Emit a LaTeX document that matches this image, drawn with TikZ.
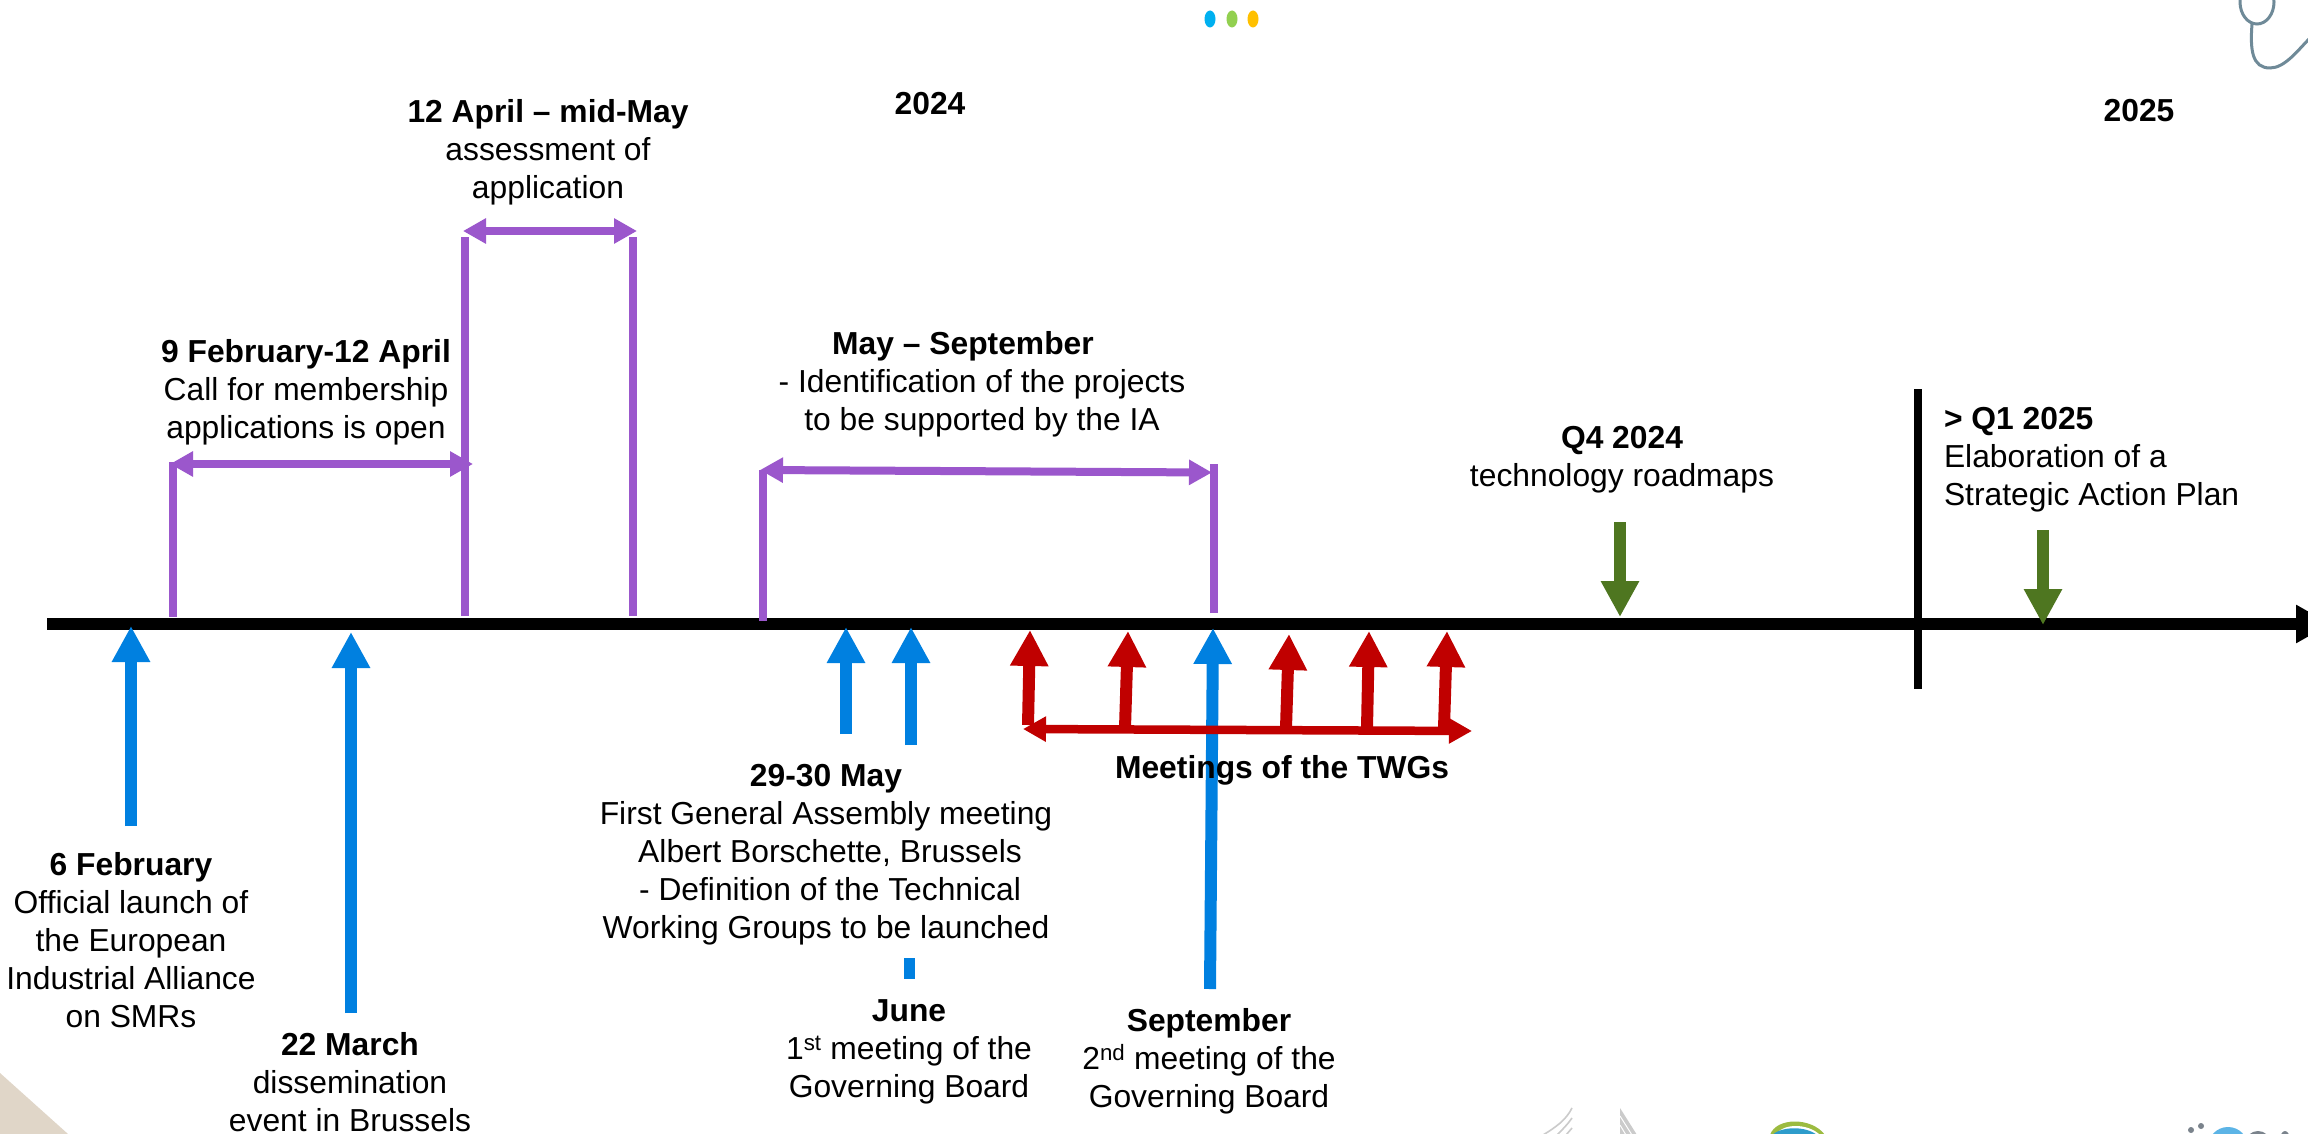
\documentclass[tikz,border=0pt]{standalone}
\usepackage{fontspec}
\setmainfont{Liberation Sans}
\usetikzlibrary{arrows.meta,shapes.geometric}
\definecolor{tblue}{HTML}{0080E0}
\definecolor{tred}{HTML}{C00000}
\definecolor{tgreen}{HTML}{4E7620}
\definecolor{tpurple}{HTML}{9B57CC}
\definecolor{tsteth}{HTML}{6F8A98}
\definecolor{dotb}{HTML}{00B0F0}
\definecolor{dotg}{HTML}{92D050}
\definecolor{doty}{HTML}{FFC000}
\definecolor{beige}{HTML}{E0D6C8}
\definecolor{lgray}{HTML}{CBCBCB}
\definecolor{logogreen}{HTML}{9CBB40}
\definecolor{logoblue}{HTML}{2E9CCB}
\definecolor{logosky}{HTML}{5CB4E6}
\definecolor{logogray}{HTML}{7A838C}
\tikzset{
  x=1pt,y=-1pt,
  lbl/.style={inner sep=0pt,outer sep=0pt,align=center,font=\fontsize{31.8}{38}\selectfont},
  lblleft/.style={lbl,align=left},
  axisline/.style={draw=black,line width=12pt,-{Triangle[length=35pt,width=36pt]}},
  yearbar/.style={draw=black,line width=8pt},
  bluearrow/.style={draw=tblue,line width=12pt,-{Triangle[length=36pt,width=36pt]}},
  blueline/.style={draw=tblue,line width=11pt},
  redarrow/.style={draw=tred,line width=12pt,-{Triangle[length=36pt,width=36pt]}},
  redspan/.style={draw=tred,line width=8.5pt,{Triangle[length=23pt,width=24pt]}-{Triangle[length=23pt,width=24pt]}},
  greenarrow/.style={draw=tgreen,line width=12pt,-{Triangle[length=36pt,width=36pt]}},
  purplebar/.style={draw=tpurple,line width=8pt},
  purplespan/.style={draw=tpurple,line width=8pt,{Triangle[length=23pt,width=24pt]}-{Triangle[length=23pt,width=24pt]}},
  dot/.style={ellipse,minimum width=11pt,minimum height=17pt,inner sep=0pt},
  fragline/.style={draw=lgray,line width=1.6pt},
}
\begin{document}
\begin{tikzpicture}
\clip (0,0) rectangle (2308,1134);
\fill[white] (0,0) rectangle (2308,1134);
% decorations
\node[dot,fill=dotb] (d1) at (1210,19) {};
\node[dot,fill=dotg] (d2) at (1232,19) {};
\node[dot,fill=doty] (d3) at (1253,19) {};
\draw[tsteth,line width=3pt] (2257,2) ellipse (17 and 22);
\draw[tsteth,line width=3pt] (2252,24) .. controls (2250,50) and (2252,68) .. (2270,68) .. controls (2285,68) and (2298,50) .. (2310,38);
\fill[beige] (0,1073) -- (68,1134) -- (0,1134) -- cycle;
\draw[fragline] (1572,1108) .. controls (1566,1120) and (1556,1127) .. (1543,1135);
\draw[fragline] (1572,1118) .. controls (1568,1124) and (1562,1130) .. (1557,1135);
\draw[fragline] (1572,1128) -- (1566,1135);
\fill[lgray] (1620,1108) -- (1637,1135) -- (1620,1135) -- cycle;
\draw[white,line width=1pt] (1620,1116) -- (1632,1135);
\draw[white,line width=1pt] (1620,1125) -- (1626,1135);
\fill[logogreen] (1770,1135) .. controls (1776,1117) and (1812,1117) .. (1825,1135) -- cycle;
\fill[white] (1776,1135) .. controls (1782,1123) and (1808,1123) .. (1820,1135) -- cycle;
\fill[logoblue] (1772,1135) .. controls (1782,1126) and (1806,1126) .. (1817,1135) -- cycle;
\fill[logosky] (2228,1147) circle (20);
\fill[logogray] (2191,1130) circle (3);
\fill[logogray] (2201,1126) circle (3);
\fill[logogray] (2258,1142) ellipse (12 and 11);
\fill[logogray] (2285,1140) ellipse (5 and 9);

% axis
\coordinate (axisL) at (47,624);
\coordinate (axisR) at (2331,624);
\draw[axisline] (axisL) -- (axisR);
\coordinate (barT) at (1918,389);
\coordinate (barB) at (1918,689);
\draw[yearbar] (barT) -- (barB);

% purple
\coordinate (p1b) at (173,617); \coordinate (p1t) at (173,462);
\coordinate (p2b) at (465,616); \coordinate (p2t) at (465,237);
\coordinate (p3b) at (633,616); \coordinate (p3t) at (633,237);
\coordinate (p4b) at (763,621); \coordinate (p4t) at (763,470);
\coordinate (p5b) at (1214,613); \coordinate (p5t) at (1214,464);
\foreach \a/\b in {p1b/p1t,p2b/p2t,p3b/p3t,p4b/p4t,p5b/p5t} \draw[purplebar] (\a) -- (\b);
\coordinate (s1l) at (170,464); \coordinate (s1r) at (473,464);
\coordinate (s2l) at (463,231); \coordinate (s2r) at (637,231);
\coordinate (s3l) at (760,470); \coordinate (s3r) at (1212,472.5);
\draw[purplespan] (s1l) -- (s1r);
\draw[purplespan] (s2l) -- (s2r);
\draw[purplespan] (s3l) -- (s3r);

% blue
\coordinate (b1b) at (131,826); \coordinate (b1t) at (131,626);
\coordinate (b2b) at (351,1013); \coordinate (b2t) at (351,632);
\coordinate (b3b) at (846,734); \coordinate (b3t) at (846,627);
\coordinate (b4b) at (911,745); \coordinate (b4t) at (911,627);
\coordinate (b5b) at (1210,989); \coordinate (b5t) at (1213,628);
\foreach \a/\b in {b1b/b1t,b2b/b2t,b3b/b3t,b4b/b4t,b5b/b5t} \draw[bluearrow] (\a) -- (\b);
\coordinate (b6t) at (909.5,958); \coordinate (b6b) at (909.5,979);
\draw[blueline] (b6t) -- (b6b);

% red
\coordinate (r1b) at (1028,725); \coordinate (r1t) at (1030,630);
\coordinate (r2b) at (1125,728); \coordinate (r2t) at (1128,631);
\coordinate (r3b) at (1286,728); \coordinate (r3t) at (1289,634);
\coordinate (r4b) at (1367,728); \coordinate (r4t) at (1369,631);
\coordinate (r5b) at (1444,728); \coordinate (r5t) at (1447,631);
\foreach \a/\b in {r1b/r1t,r2b/r2t,r3b/r3t,r4b/r4t,r5b/r5t} \draw[redarrow] (\a) -- (\b);
\coordinate (rsl) at (1023,729); \coordinate (rsr) at (1472,731);
\draw[redspan] (rsl) -- (rsr);

% green
\coordinate (g1t) at (1620,522); \coordinate (g1b) at (1620,617);
\coordinate (g2t) at (2043,530); \coordinate (g2b) at (2043,625);
\draw[greenarrow] (g1t) -- (g1b);
\draw[greenarrow] (g2t) -- (g2b);

% text
\node[lbl] (y24) at (930,104) {\textbf{2024}};
\node[lbl] (y25) at (2139,111) {\textbf{2025}};
\node[lbl] (t1) at (548,152) {\textbf{12 April – mid-May}\\assessment of\\application};
\node[lbl] (t2) at (306,392) {\textbf{9 February-12 April}\\Call for membership\\applications is open};
\node[lbl] (t3) at (982,384) {\textbf{May – September}\hspace*{38pt}\\- Identification of the projects\\to be supported by the IA};
\node[lbl] (t4) at (1622,460) {\textbf{Q4 2024}\\technology roadmaps};
\node[lblleft,anchor=west] (t5) at (1944,460) {\textbf{> Q1 2025}\\Elaboration of a\\Strategic Action Plan};
\node[lbl] (t6) at (131,940) {\textbf{6 February}\\Official launch of\\the European\\Industrial Alliance\\on SMRs};
\node[lbl] (t7) at (350,1082) {\textbf{22 March}\\dissemination\\event in Brussels};
\node[lbl] (t8) at (826,855) {\textbf{29-30 May}\\First General Assembly meeting\\\hspace*{8pt}Albert Borschette, Brussels\\\hspace*{8pt}- Definition of the Technical\\Working Groups to be launched};
\node[lbl] (t9) at (909,1052) {\textbf{June}\\1\textsuperscript{st} meeting of the\\Governing Board};
\node[lbl] (t10) at (1209,1061) {\textbf{September}\\2\textsuperscript{nd} meeting of the\\Governing Board};
\node[lbl] (t11) at (1282,770) {\textbf{Meetings of the TWGs}};
\end{tikzpicture}
\end{document}
